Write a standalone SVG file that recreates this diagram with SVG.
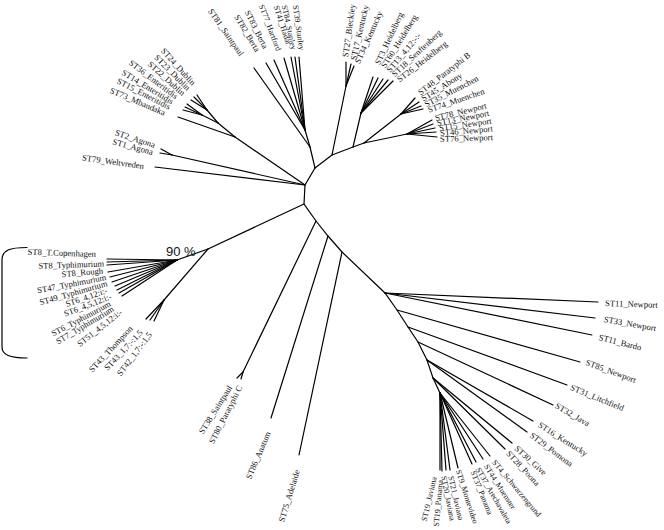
<svg xmlns="http://www.w3.org/2000/svg" width="664" height="530" viewBox="0 0 664 530">
<style>
.ed line,.ed polyline,.ed path{stroke:#000;stroke-width:1.2;fill:none;stroke-linecap:round}
text{font-family:"Liberation Serif","Times New Roman",serif;font-size:8.6px;fill:#111}
.e{text-anchor:end}
.s{text-anchor:start}
.sm{font-size:8px}
.pct{font-family:"Liberation Sans",Arial,sans-serif;font-size:13px}
</style>
<rect width="664" height="530" fill="#fff"/>
<g id="edges" class="ed">
<polyline points="315,168 305,185 304,204 316,221 328,236 342,252 385,293 397,310 408,327 418,342 427,360 433,378 440,393"/>
<line x1="315" y1="168" x2="310" y2="147"/><line x1="310" y1="147" x2="305" y2="130"/>
<line x1="315" y1="168" x2="332" y2="155"/>
<line x1="332" y1="155" x2="346" y2="86"/>
<line x1="332" y1="155" x2="353" y2="147"/>
<line x1="353" y1="147" x2="361" y2="113"/>
<line x1="353" y1="147" x2="364" y2="143"/>
<line x1="364" y1="143" x2="401" y2="114"/>
<line x1="364" y1="143" x2="407" y2="134"/>
<line x1="305" y1="185" x2="235" y2="137"/>
<line x1="235" y1="137" x2="218" y2="123"/>
<line x1="218" y1="123" x2="207" y2="110"/>
<line x1="218" y1="123" x2="202" y2="115"/>
<line x1="235" y1="137" x2="178" y2="117"/>
<line x1="305" y1="185" x2="172" y2="155"/>
<line x1="172" y1="155" x2="161" y2="149"/><line x1="172" y1="155" x2="160" y2="153"/>
<line x1="305" y1="185" x2="155" y2="167"/>
<line x1="304" y1="204" x2="208" y2="249"/>
<line x1="208" y1="249" x2="177" y2="260"/>
<line x1="208" y1="249" x2="164" y2="300"/>
<line x1="316" y1="221" x2="243" y2="372"/>
<line x1="243" y1="372" x2="237" y2="378"/><line x1="243" y1="372" x2="241" y2="379"/>
<line x1="328" y1="236" x2="271" y2="418"/>
<line x1="342" y1="252" x2="299" y2="455"/>
<line x1="310" y1="147" x2="254" y2="68"/>
<line x1="305" y1="130" x2="266" y2="63"/><line x1="305" y1="130" x2="274" y2="60"/>
<line x1="305" y1="130" x2="284" y2="58"/><line x1="305" y1="130" x2="291" y2="57"/>
<line x1="305" y1="130" x2="295" y2="57"/><line x1="305" y1="130" x2="299" y2="57"/>
<line x1="346" y1="86" x2="346" y2="62"/><line x1="346" y1="86" x2="351" y2="64"/><line x1="346" y1="86" x2="354" y2="66"/>
<line x1="361" y1="113" x2="373" y2="77"/><line x1="361" y1="113" x2="378" y2="78"/><line x1="361" y1="113" x2="383" y2="79"/><line x1="361" y1="113" x2="388" y2="80"/><line x1="361" y1="113" x2="393" y2="81"/>
<line x1="401" y1="114" x2="415" y2="98"/><line x1="401" y1="114" x2="419" y2="102"/><line x1="401" y1="114" x2="421" y2="106"/><line x1="401" y1="114" x2="423" y2="109"/>
<line x1="407" y1="134" x2="432" y2="120"/><line x1="407" y1="134" x2="433" y2="124"/><line x1="407" y1="134" x2="435" y2="128"/><line x1="407" y1="134" x2="436" y2="132"/><line x1="407" y1="134" x2="437" y2="137"/>
<line x1="207" y1="110" x2="197" y2="95"/><line x1="207" y1="110" x2="194" y2="97"/><line x1="207" y1="110" x2="191" y2="100"/>
<line x1="202" y1="115" x2="187" y2="104"/><line x1="202" y1="115" x2="185" y2="107"/><line x1="202" y1="115" x2="183" y2="110"/>
<line x1="177" y1="260" x2="107" y2="259"/><line x1="177" y1="260" x2="107" y2="262"/><line x1="177" y1="260" x2="107" y2="265"/>
<line x1="177" y1="260" x2="108" y2="272"/><line x1="177" y1="260" x2="110" y2="277"/><line x1="177" y1="260" x2="112" y2="282"/>
<line x1="177" y1="260" x2="115" y2="286"/><line x1="177" y1="260" x2="117" y2="290"/><line x1="177" y1="260" x2="119" y2="293"/>
<line x1="177" y1="260" x2="122" y2="296"/>
<line x1="164" y1="300" x2="146" y2="319"/><line x1="164" y1="300" x2="150" y2="320"/><line x1="164" y1="300" x2="154" y2="321"/>
<line x1="385" y1="293" x2="598" y2="302"/><line x1="385" y1="293" x2="595" y2="318"/><line x1="385" y1="293" x2="592" y2="335"/>
<line x1="397" y1="310" x2="580" y2="362"/>
<line x1="408" y1="327" x2="567" y2="385"/>
<line x1="418" y1="342" x2="553" y2="405"/>
<line x1="427" y1="360" x2="533" y2="421"/><line x1="427" y1="360" x2="527" y2="432"/>
<line x1="433" y1="378" x2="512" y2="443"/><line x1="433" y1="378" x2="505" y2="449"/>
<line x1="440" y1="393" x2="490" y2="456"/><line x1="440" y1="393" x2="483" y2="459"/><line x1="440" y1="393" x2="476" y2="462"/>
<line x1="440" y1="393" x2="472" y2="464"/><line x1="440" y1="393" x2="458" y2="468"/><line x1="440" y1="393" x2="450" y2="470"/>
<line x1="440" y1="393" x2="446" y2="470"/><line x1="440" y1="393" x2="442" y2="471"/><line x1="440" y1="393" x2="440" y2="470"/>
<path d="M27,247.5 C10,247.5 2,250 2,260 L2,347 C2,355 10,358 27,358" stroke-width="1.4"/>
</g>
<g id="leaves-left-upper">
<text class="e" transform="translate(194,84) rotate(48)" dy=".35em">ST24_Dublin</text>
<text class="e" transform="translate(189,89) rotate(45)" dy=".35em">ST23_Dublin</text>
<text class="e" transform="translate(184,94) rotate(42)" dy=".35em">ST22_Dublin</text>
<text class="e" transform="translate(177,97) rotate(37)" dy=".35em">ST36_Enteritidis</text>
<text class="e" transform="translate(173,102) rotate(31)" dy=".35em">ST14_Enteritidis</text>
<text class="e" transform="translate(170,107) rotate(27)" dy=".35em">ST15_Enteritidis</text>
<text class="e" transform="translate(165,113) rotate(23)" dy=".35em">ST73_Mbandaka</text>
<text class="e" transform="translate(155,145) rotate(18)" dy=".35em">ST2_Agona</text>
<text class="e" transform="translate(153,152) rotate(15)" dy=".35em">ST1_Agona</text>
<text class="e" transform="translate(144,166) rotate(8)" dy=".35em">ST79_Weltvreden</text>
</g>
<g id="leaves-top">
<text class="e" transform="translate(242,55) rotate(55)" dy=".35em">ST81_Saintpaul</text>
<text class="e" transform="translate(258,51) rotate(59)" dy=".35em">ST82_Berta</text>
<text class="e" transform="translate(266,48) rotate(63)" dy=".35em">ST83_Berta</text>
<text class="e sm" transform="translate(279,50.5) rotate(69)" dy=".35em">ST77_Hartford</text>
<text class="e sm" transform="translate(289,44.5) rotate(72)" dy=".35em">ST41_Hadar</text>
<text class="e sm" transform="translate(294,49.5) rotate(78)" dy=".35em">ST84_Stanley</text>
<text class="e sm" transform="translate(302,50) rotate(82)" dy=".35em">ST39_Stanley</text>
<text class="s" transform="translate(345,57) rotate(-82)" dy=".35em">ST27_Bleckley</text>
<text class="s" transform="translate(353,60) rotate(-77)" dy=".35em">ST17_Kentucky</text>
<text class="s" transform="translate(357,63) rotate(-66)" dy=".35em">ST34_Kentucky</text>
</g>
<g id="leaves-top-right">
<text class="s" transform="translate(377,64) rotate(-65)" dy=".35em">ST3_Heidelberg</text>
<text class="s" transform="translate(383,67) rotate(-58)" dy=".35em">ST60_Heidelberg</text>
<text class="s" transform="translate(388,71) rotate(-50)" dy=".35em">ST13_4,12:-:-</text>
<text class="s" transform="translate(393,75) rotate(-43)" dy=".35em">ST18_Senftenberg</text>
<text class="s" transform="translate(398,80) rotate(-38)" dy=".35em">ST26_Heidelberg</text>
<text class="s" transform="translate(419,93) rotate(-38)" dy=".35em">ST48_Paratyphi B</text>
<text class="s" transform="translate(422,99) rotate(-32)" dy=".35em">ST45_Abony</text>
<text class="s" transform="translate(425,104.5) rotate(-27)" dy=".35em">ST35_Muenchen</text>
<text class="s" transform="translate(428,110) rotate(-19)" dy=".35em">ST74_Muenchen</text>
<text class="s" transform="translate(435,118) rotate(-14)" dy=".35em">ST78_Newport</text>
<text class="s" transform="translate(437,123) rotate(-11)" dy=".35em">ST13_Newport</text>
<text class="s" transform="translate(439,128) rotate(-8)" dy=".35em">ST15_Newport</text>
<text class="s" transform="translate(440,133) rotate(-5)" dy=".35em">ST46_Newport</text>
<text class="s" transform="translate(440,139) rotate(-2)" dy=".35em">ST76_Newport</text>
</g>
<g id="leaves-bottom-right">
<text class="s" transform="translate(605,303) rotate(2)" dy=".35em">ST11_Newport</text>
<text class="s" transform="translate(604,319) rotate(10)" dy=".35em">ST33_Newport</text>
<text class="s" transform="translate(599,337) rotate(14)" dy=".35em">ST11_Bardo</text>
<text class="s" transform="translate(586,362) rotate(20)" dy=".35em">ST85_Newport</text>
<text class="s" transform="translate(571,387) rotate(22)" dy=".35em">ST31_Litchfield</text>
<text class="s" transform="translate(556,405) rotate(30)" dy=".35em">ST32_Java</text>
<text class="s" transform="translate(539,424) rotate(32)" dy=".35em">ST16_Kentucky</text>
<text class="s" transform="translate(531,434) rotate(37)" dy=".35em">ST29_Pomona</text>
<text class="s" transform="translate(516,447) rotate(42)" dy=".35em">ST30_Give</text>
<text class="s" transform="translate(508,452) rotate(47)" dy=".35em">ST28_Poona</text>
<text class="s sm" transform="translate(494,461) rotate(50)" dy=".35em">ST4_Schwarzengrund</text>
<text class="s sm" transform="translate(486,465) rotate(57)" dy=".35em">ST44_Muenster</text>
<text class="s sm" transform="translate(478,468) rotate(60)" dy=".35em">ST37_Arechavaleta</text>
<text class="s sm" transform="translate(473,471) rotate(68)" dy=".35em">ST37_Panama</text>
<text class="s sm" transform="translate(458.5,470) rotate(72)" dy=".35em">ST9_Montevideo</text>
<text class="s sm" transform="translate(451,476) rotate(77)" dy=".35em">ST21_Javiana</text>
<text class="s sm" transform="translate(444,476) rotate(79)" dy=".35em">ST20_Javiana</text>
<text class="e sm" transform="translate(440,480) rotate(-85)" dy=".35em">ST19_Panama</text>
<text class="e sm" transform="translate(434,477) rotate(-77)" dy=".35em">ST19_Javiana</text>
</g>
<g id="leaves-bottom">
<text class="e" transform="translate(230,386) rotate(-58)" dy=".35em">ST38_Saintpaul</text>
<text class="e" transform="translate(240,386) rotate(-63)" dy=".35em">ST80_Paratyphi C</text>
<text class="e" transform="translate(268,432) rotate(-67)" dy=".35em">ST86_Anatum</text>
<text class="e" transform="translate(297,470) rotate(-73)" dy=".35em">ST75_Adelaide</text>
</g>
<g id="leaves-left">
<text class="e" transform="translate(96,254) rotate(2)" dy=".35em">ST8_T.Copenhagen</text>
<text class="e" transform="translate(104,263.5) rotate(-2)" dy=".35em">ST8_Typhimurium</text>
<text class="e" transform="translate(103,270.5) rotate(-5)" dy=".35em">ST8_Rough</text>
<text class="e" transform="translate(106,277) rotate(-11)" dy=".35em">ST47_Typhimurium</text>
<text class="e" transform="translate(107,283) rotate(-16)" dy=".35em">ST49_Typhimurium</text>
<text class="e" transform="translate(107,290) rotate(-19)" dy=".35em">ST6_4,12:i:-</text>
<text class="e" transform="translate(111,296) rotate(-21)" dy=".35em">ST6_4,5,12:i:-</text>
<text class="e" transform="translate(110,303) rotate(-28)" dy=".35em">ST6_Typhimurium</text>
<text class="e" transform="translate(113,308) rotate(-31)" dy=".35em">ST7_Typhimurium</text>
<text class="e" transform="translate(121,311) rotate(-38)" dy=".35em">ST51_4,5,12:i:-</text>
<text class="e" transform="translate(131,327) rotate(-47)" dy=".35em">ST43_Thompson</text>
<text class="e" transform="translate(141,331) rotate(-47)" dy=".35em">ST43_1,7:-:1,5</text>
<text class="e" transform="translate(150,333) rotate(-53)" dy=".35em">ST42_1,7:-:1,5</text>
<text class="pct" x="166" y="256">90 %</text>
</g>
</svg>
